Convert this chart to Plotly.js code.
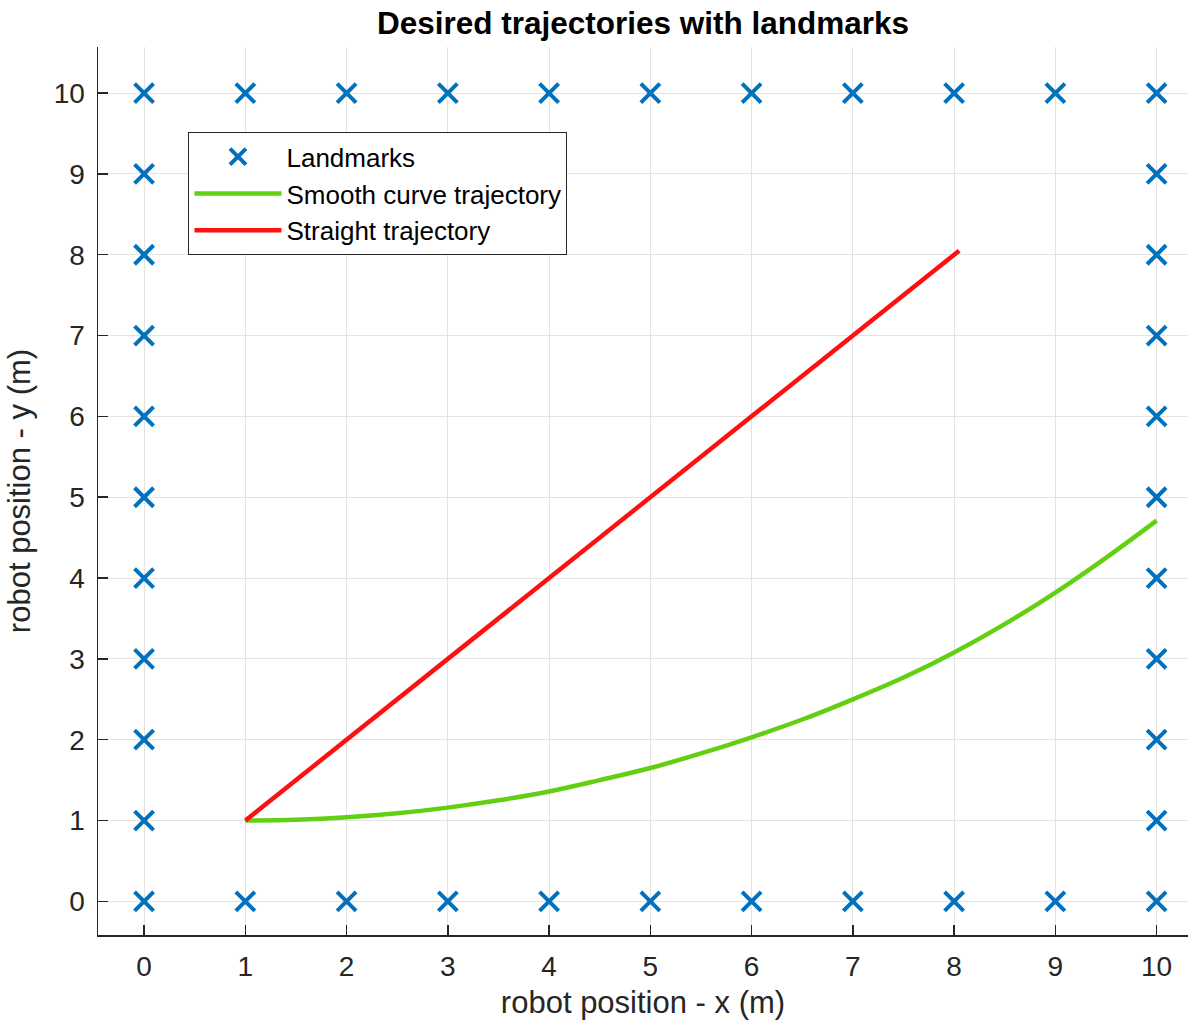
<!DOCTYPE html>
<html>
<head>
<meta charset="utf-8">
<script src="https://cdn.plot.ly/plotly-3.0.1.min.js"></script>
<style>html,body{margin:0;padding:0;background:#fff;}</style>
</head>
<body>
<div id="chart" style="width:1188px;height:1026px;"></div>
<script>
// Landmarks
const landmarkX = [0,1,2,3,4,5,6,7,8,9,10, 0,1,2,3,4,5,6,7,8,9,10, 0,0,0,0,0,0,0,0,0, 10,10,10,10,10,10,10,10,10];
const landmarkY = [10,10,10,10,10,10,10,10,10,10,10, 0,0,0,0,0,0,0,0,0,0,0, 1,2,3,4,5,6,7,8,9, 1,2,3,4,5,6,7,8,9];
// Smooth curve trajectory
const curveX = [1, 1.5, 2, 2.5, 3, 3.5, 4, 4.5, 5, 5.5, 6, 6.5, 7, 7.5, 8, 8.5, 9, 9.5, 10];
const curveY = [1, 1.01, 1.04, 1.09, 1.16, 1.25, 1.36, 1.5, 1.65, 1.83, 2.03, 2.25, 2.5, 2.77, 3.08, 3.43, 3.82, 4.25, 4.71];
// Straight trajectory
const lineX = [1, 8.05];
const lineY = [1, 8.05];
const xTicks = [0,1,2,3,4,5,6,7,8,9,10];
const yTicks = [0,1,2,3,4,5,6,7,8,9,10];

const fontFam = 'Liberation Sans, Arial, sans-serif';
const traces = [
  {x: landmarkX, y: landmarkY, type: 'scatter', mode: 'markers', name: 'Landmarks',
   marker: {symbol: 'x-thin', size: 19, color: '#0072BD', line: {width: 4, color: '#0072BD'}}},
  {x: curveX, y: curveY, type: 'scatter', mode: 'lines', name: 'Smooth curve trajectory',
   line: {color: '#62d010', width: 4.5, shape: 'spline', smoothing: 1}},
  {x: lineX, y: lineY, type: 'scatter', mode: 'lines', name: 'Straight trajectory',
   line: {color: '#ff1010', width: 4.5}}
];
const axisCommon = {
  showgrid: true, gridcolor: '#e3e3e3', gridwidth: 1,
  zeroline: false, showline: true, linecolor: '#262626', linewidth: 1.5,
  ticks: 'inside', ticklen: 10, tickwidth: 1.5, tickcolor: '#262626',
  tickfont: {family: fontFam, size: 28, color: '#262626'},
  mirror: false
};
const layout = {
  width: 1188, height: 1026,
  margin: {l: 98, r: 0, t: 47, b: 91},
  paper_bgcolor: '#fff', plot_bgcolor: '#fff',
  showlegend: true,
  title: {text: '<b>Desired trajectories with landmarks</b>', x: 0.5, xref: 'paper', y: 0.978, yref: 'container', yanchor: 'middle',
          font: {family: fontFam, size: 31.5, color: '#000'}},
  xaxis: Object.assign({}, axisCommon, {range: [-0.455, 10.31], tickvals: xTicks, ticktext: xTicks.map(String),
    ticklabelstandoff: 6,
    title: {text: 'robot position - x (m)', font: {family: fontFam, size: 31, color: '#262626'}, standoff: 10}}),
  yaxis: Object.assign({}, axisCommon, {range: [-0.416, 10.57], tickvals: yTicks, ticktext: yTicks.map(String),
    ticklabelstandoff: 6,
    title: {text: 'robot position - y (m)', font: {family: fontFam, size: 31, color: '#262626'}, standoff: 14}}),
  legend: {x: 0.083, y: 0.904, xanchor: 'left', yanchor: 'top', bgcolor: '#fff', bordercolor: '#262626', borderwidth: 1,
           font: {family: fontFam, size: 26, color: '#000'}, itemwidth: 87, tracegroupgap: 0}
};
Plotly.newPlot('chart', traces, layout, {displayModeBar: false, staticPlot: true});
</script>
</body>
</html>
